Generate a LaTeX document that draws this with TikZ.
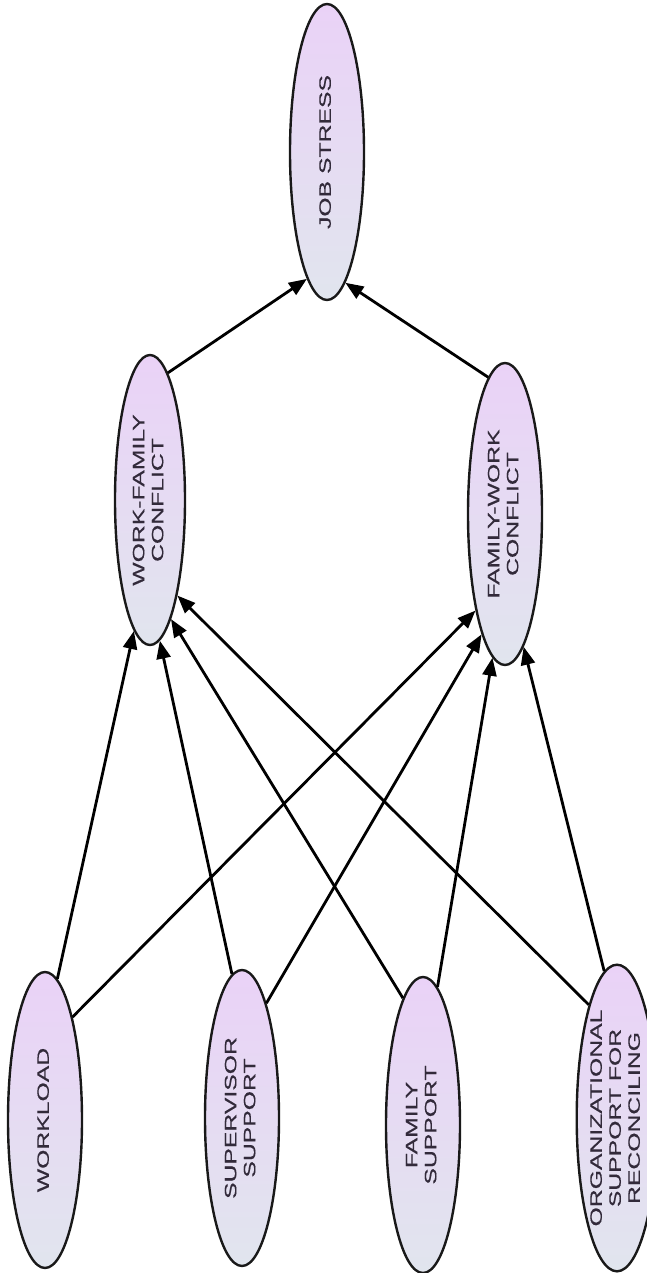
\documentclass[tikz,border=0pt]{standalone}
\usepackage{fontspec}
\setmainfont{Liberation Sans}
\newfontfamily\entfont{Liberation Sans}[FakeBold=0.35]
\usepackage{graphicx}
\usetikzlibrary{shapes.geometric,arrows.meta}
\definecolor{entpink}{RGB}{234,210,247}
\definecolor{entgrey}{RGB}{225,229,238}
\definecolor{enttext}{RGB}{50,42,58}
\newcommand{\entlabel}[1]{\rotatebox{90}{\scalebox{1.5}[1]{\entfont\fontsize{16.5}{19}\selectfont\begin{tabular}{@{}c@{}}#1\end{tabular}}}}
\tikzset{
  ent/.style={ellipse, draw=black!90, line width=2.4pt, inner sep=0pt,
    top color=entpink, bottom color=entgrey, text=enttext,
    minimum width=74pt, minimum height=296pt},
  edge/.style={line width=2.8pt, -{Triangle[length=18pt,width=14pt]}}
}
\begin{document}
\begin{tikzpicture}[x=1pt,y=-1pt]
\useasboundingbox (0,0) rectangle (647,1273);
\node[ent] (js)  at (327,152)  {\entlabel{JOB STRESS}};
\node[ent, minimum width=70pt, minimum height=290pt] (wfc) at (150,500) {\entlabel{WORK-FAMILY\\CONFLICT}};
\node[ent, minimum height=302pt] (fwc) at (505,514) {\entlabel{FAMILY-WORK\\CONFLICT}};
\node[ent] (wl)  at (45,1120)  {\entlabel{WORKLOAD}};
\node[ent] (ss)  at (242,1118) {\entlabel{SUPERVISOR\\SUPPORT}};
\node[ent] (fs)  at (423,1125) {\entlabel{FAMILY\\SUPPORT}};
\node[ent, minimum width=62pt] (org) at (617,1118) {\entlabel{ORGANIZATIONAL\\SUPPORT FOR\\RECONCILING}};

\draw[edge] (wfc.82) -- (js.261);
\draw[edge] (fwc.97) -- (js.278);

\draw[edge] (wl.85) -- (wfc.263);
\draw[edge] (wl.75) -- (fwc.253);
\draw[edge] (ss.94) -- (wfc.274);
\draw[edge] (ss.78) -- (fwc.259);
\draw[edge] (fs.99) -- (wfc.280);
\draw[edge] (fs.84) -- (fwc.265);
\draw[edge] (org.104) -- (wfc.286);
\draw[edge] (org.95) -- (fwc.278);
\end{tikzpicture}
\end{document}
